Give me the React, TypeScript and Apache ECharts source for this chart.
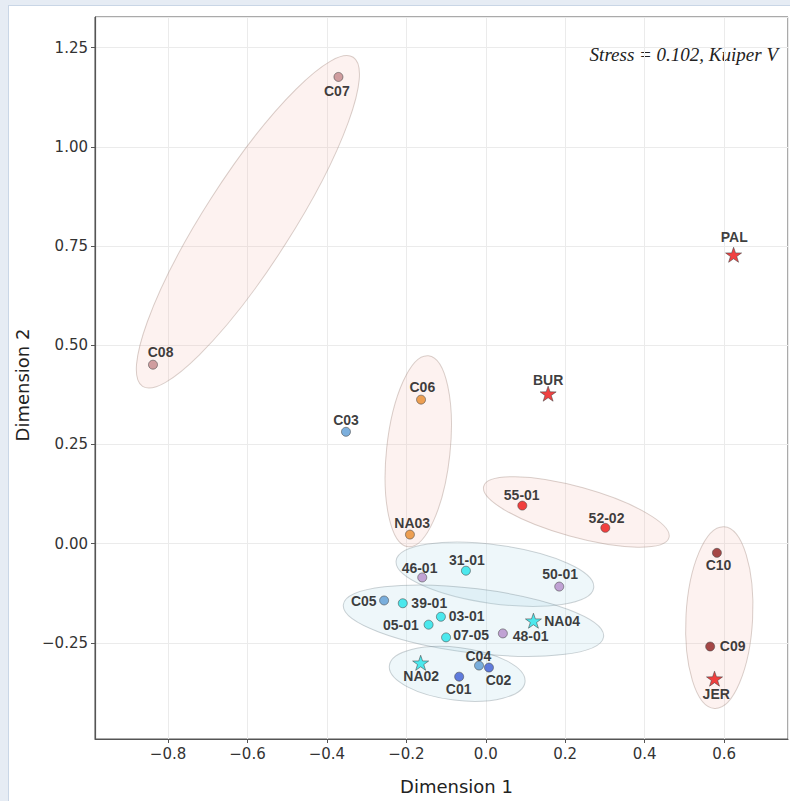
import React, { useEffect, useRef } from "react";
import * as echarts from "echarts";

// ---- data ----
const names = ["C07", "C08", "C06", "C03", "NA03", "BUR", "PAL", "55-01", "52-02", "C10", "C09", "JER", "46-01", "31-01", "50-01", "C05", "39-01", "03-01", "05-01", "07-05", "NA04", "48-01", "NA02", "C04", "C02", "C01"];
const dim1 = [-0.371, -0.838, -0.163, -0.352, -0.191, 0.157, 0.624, 0.092, 0.301, 0.582, 0.565, 0.576, -0.160, -0.050, 0.185, -0.256, -0.209, -0.113, -0.144, -0.100, 0.120, 0.043, -0.164, -0.017, 0.008, -0.067];
const dim2 = [1.176, 0.451, 0.363, 0.282, 0.023, 0.378, 0.728, 0.096, 0.040, -0.023, -0.259, -0.340, -0.085, -0.068, -0.108, -0.143, -0.150, -0.184, -0.204, -0.236, -0.194, -0.226, -0.300, -0.307, -0.312, -0.335];
const groups = ["rosy", "rosy", "orange", "steel", "orange", "red", "red", "red", "red", "darkred", "darkred", "red", "purple", "cyan", "purple", "steel", "cyan", "cyan", "cyan", "cyan", "cyan", "purple", "cyan", "steel", "royal", "royal"];
const starNames = ["BUR", "PAL", "JER", "NA04", "NA02"];

// confidence ellipses: centre, semi-axes (data units), rotation (deg), kind (0 pink, 1 blue)
const ellCx = [-0.599, -0.170, 0.228, 0.588, 0.023, -0.031, -0.072];
const ellCy = [0.811, 0.233, 0.080, -0.186, -0.077, -0.194, -0.328];
const ellA = [0.492, 0.242, 0.242, 0.229, 0.251, 0.330, 0.172];
const ellB = [0.110, 0.080, 0.063, 0.084, 0.074, 0.081, 0.0665];
const ellAngle = [57.4, 83.9, -15.5, 87, -7.8, -7, -6.9];
const ellKind = [0, 0, 0, 0, 1, 1, 1];

const xTicksStep = 0.2;
const yTicksStep = 0.25;

// ---- styles ----
const groupColors: Record<string, string> = {
  rosy: "#c4878b",
  orange: "#e8892b",
  steel: "#5b9bd5",
  royal: "#3b5bd4",
  cyan: "#22e4ea",
  purple: "#b48ccb",
  red: "#ee1111",
  darkred: "#8e1c1c",
};

const labelOffsets: Record<string, [number, number]> = {
  C07: [-1.6, 14.4], C08: [7.6, -12.5], C06: [1.3, -12.3], C03: [0, -11.3], NA03: [2.3, -11.2],
  BUR: [0, -14], PAL: [0.7, -17.3], "55-01": [-0.6, -10.3], "52-02": [1.2, -9.6], C10: [1.6, 12.4],
  C09: [22.5, -0.6], JER: [1.7, 15], "46-01": [-2.7, -9.4], "31-01": [1, -11], "50-01": [0.9, -12.4],
  C05: [-20.3, 0.3], "39-01": [26.5, -0.4], "03-01": [25.7, -0.3], "05-01": [-27.7, 0], "07-05": [25, -2],
  NA04: [28.7, 0], "48-01": [27.8, 3], NA02: [0.6, 13.7], C04: [-0.7, -10], C02: [9.6, 12.3], C01: [-0.5, 12],
};

const STAR = "path://M50,0 L61.8,35.1 L98.9,35.5 L69.1,57.6 L80.3,93 L50,71.5 L19.7,93 L30.9,57.6 L1.1,35.5 L38.2,35.1 Z";

function fmt(v: number, d: number) {
  if (Math.abs(v) < 1e-9) return (0).toFixed(d);
  const s = Math.abs(v).toFixed(d);
  return v < 0 ? "\u2212" + s : s;
}
function isMultiple(v: number, step: number) {
  const r = v / step;
  return Math.abs(r - Math.round(r)) < 1e-6;
}

export default function App() {
  const ref = useRef<HTMLDivElement>(null);
  useEffect(() => {
    if (!ref.current) return;
    const chart = echarts.init(ref.current, undefined, { renderer: "svg" });

    const points = names.map((n, i) => {
      const isStar = starNames.includes(n);
      const col = groupColors[groups[i]];
      return {
        name: n,
        value: [dim1[i], dim2[i]],
        symbol: isStar ? STAR : "circle",
        symbolSize: isStar ? [16, 15] : 9,
        itemStyle: { color: col, borderColor: "#444", borderWidth: 0.7 },
        label: {
          show: true,
          position: "inside",
          offset: labelOffsets[n] || [0, -11],
          formatter: n,
          fontFamily: "Liberation Sans, Arial, sans-serif",
          fontWeight: "bold",
          fontSize: 14,
          color: "#0a0a0a",
        },
      };
    });

    const ellData = ellCx.map((cx, i) => [cx, ellCy[i], ellA[i], ellB[i], ellAngle[i], ellKind[i]]);

    const axisFont = "DejaVu Sans, sans-serif";

    chart.setOption({
      animation: false,
      backgroundColor: "transparent",
      grid: { left: 95, top: 17, right: 2, bottom: 62, show: true, borderColor: "#555", borderWidth: 1 },
      xAxis: {
        type: "value",
        min: -0.984,
        max: 0.761,
        splitNumber: 8,
        minInterval: xTicksStep,
        maxInterval: xTicksStep,
        name: "Dimension 1",
        nameLocation: "middle",
        nameGap: 38,
        nameTextStyle: { fontFamily: axisFont, fontSize: 18, color: "#222", padding: [0, 0, 0, 30] },
        axisLine: { show: true, onZero: false, lineStyle: { color: "#555", width: 1.2 } },
        axisTick: { show: true, length: 4, lineStyle: { color: "#555" } },
        axisLabel: {
          fontFamily: axisFont,
          fontSize: 15,
          color: "#333",
          margin: 7,
          showMinLabel: false,
          showMaxLabel: false,
          formatter: (v: number) => (isMultiple(v, xTicksStep) ? fmt(v, 1) : ""),
        },
        splitLine: { show: true, lineStyle: { color: "#ebebeb", width: 1 } },
      },
      yAxis: {
        type: "value",
        min: -0.492,
        max: 1.327,
        splitNumber: 7,
        minInterval: yTicksStep,
        maxInterval: yTicksStep,
        name: "Dimension 2",
        nameLocation: "middle",
        nameGap: 55,
        nameRotate: 90,
        nameTextStyle: { fontFamily: axisFont, fontSize: 18, color: "#222", padding: [0, 14, 0, 0] },
        axisLine: { show: true, onZero: false, lineStyle: { color: "#555", width: 1.2 } },
        axisTick: { show: true, length: 4, lineStyle: { color: "#555" } },
        axisLabel: {
          fontFamily: axisFont,
          fontSize: 15,
          color: "#333",
          margin: 7,
          showMinLabel: false,
          showMaxLabel: false,
          formatter: (v: number) => (isMultiple(v, yTicksStep) ? fmt(v, 2) : ""),
        },
        splitLine: { show: true, lineStyle: { color: "#ebebeb", width: 1 } },
      },
      graphic: [
        {
          type: "text",
          right: 12,
          top: 45,
          style: {
            text: "Stress = 0.102, Kuiper V",
            font: 'italic 19px "Liberation Serif", "Times New Roman", serif',
            fill: "#222",
          },
        },
      ],
      series: [
        {
          type: "custom",
          coordinateSystem: "cartesian2d",
          silent: true,
          z: 1,
          encode: { x: 0, y: 1 },
          data: ellData,
          renderItem: (params: any, api: any) => {
            const c = api.coord([api.value(0), api.value(1)]);
            const s = api.size([api.value(2), api.value(3)]);
            const kind = api.value(5);
            return {
              type: "ellipse",
              x: c[0],
              y: c[1],
              rotation: (api.value(4) * Math.PI) / 180,
              shape: { cx: 0, cy: 0, rx: s[0], ry: s[1] },
              style:
                kind === 0
                  ? { fill: "rgba(240,175,160,0.16)", stroke: "rgba(150,120,110,0.35)", lineWidth: 1 }
                  : { fill: "rgba(170,215,230,0.2)", stroke: "rgba(110,125,135,0.35)", lineWidth: 1 },
            };
          },
        },
        {
          type: "scatter",
          z: 3,
          data: points,
        },
      ],
    });
    return () => chart.dispose();
  }, []);

  return (
    <div style={{ position: "fixed", left: 0, top: 0, width: 790, height: 801, background: "#e6ecf4", overflow: "hidden" }}>
      <div
        style={{
          position: "absolute",
          left: 8,
          top: 5,
          width: 800,
          height: 820,
          background: "#ffffff",
          borderLeft: "1px solid #c9d6e6",
          borderTop: "1px solid #c9d6e6",
        }}
      />
      <div ref={ref} style={{ position: "absolute", left: 0, top: 0, width: 790, height: 801 }} />
    </div>
  );
}
